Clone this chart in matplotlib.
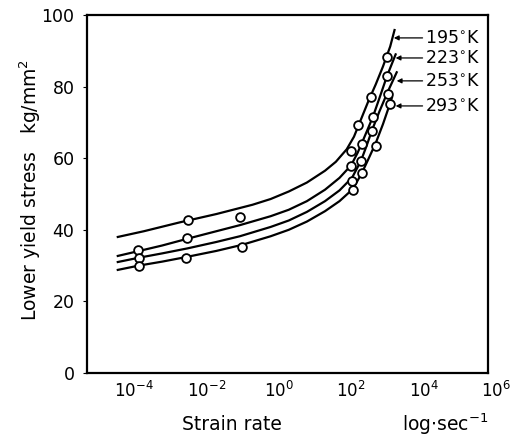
import numpy as np
import matplotlib
matplotlib.use("Agg")
import matplotlib.pyplot as plt
from matplotlib.transforms import ScaledTranslation

# ---- data (log10 strain rate, lower yield stress kg/mm^2) ----
temps = ["195", "223", "253", "293"]

# smooth curves
curve_195_logx = [-4.22, -3.5, -2.5, -1.5, -0.5, 0.0, 0.5, 1.0, 1.5, 1.8, 2.1, 2.3, 2.5, 2.7, 2.9, 3.1, 3.3, 3.42]
curve_195_y = [38.0, 39.6, 42.1, 44.4, 47.0, 48.6, 50.7, 53.2, 56.5, 59.0, 62.5, 66.0, 71.0, 76.0, 80.6, 85.6, 91.2, 95.8]
curve_223_logx = [-4.22, -3.67, -3.0, -2.3, -1.5, -0.85, 0.0, 0.5, 1.0, 1.5, 1.9, 2.22, 2.4, 2.55, 2.7, 2.82, 3.0, 3.21, 3.45]
curve_223_y = [32.7, 34.0, 35.6, 37.5, 39.6, 41.3, 43.8, 45.6, 48.0, 51.2, 54.5, 58.0, 61.5, 65.0, 68.6, 71.5, 76.7, 82.9, 89.0]
curve_253_logx = [-4.22, -3.64, -3.0, -2.3, -1.5, -0.85, 0.0, 0.5, 1.0, 1.5, 1.9, 2.25, 2.49, 2.65, 2.79, 3.0, 3.23, 3.48]
curve_253_y = [31.0, 32.2, 33.4, 34.8, 36.6, 38.2, 40.8, 42.6, 45.0, 48.0, 51.0, 54.6, 59.2, 63.5, 67.6, 73.0, 78.5, 84.0]
curve_293_logx = [-4.22, -3.64, -3.0, -2.33, -1.5, -0.79, 0.0, 0.5, 1.0, 1.5, 1.9, 2.27, 2.52, 2.7, 2.9, 3.1, 3.29, 3.35]
curve_293_y = [28.8, 30.0, 31.1, 32.4, 34.1, 35.8, 38.2, 40.0, 42.3, 45.2, 48.0, 51.4, 55.9, 59.8, 64.2, 69.5, 75.1, 77.0]

# measured points
pts_195_logx = [-2.27, -0.85, 2.22, 2.41, 2.77, 3.21]
pts_195_y = [42.7, 43.6, 62.0, 69.3, 77.1, 88.3]
pts_223_logx = [-3.67, -2.30, 2.22, 2.52, 2.82, 3.21]
pts_223_y = [34.4, 37.7, 57.8, 64.0, 71.5, 82.9]
pts_253_logx = [-3.64, 2.25, 2.49, 2.79, 3.23]
pts_253_y = [32.1, 53.6, 59.2, 67.6, 77.9]
pts_293_logx = [-3.64, -2.33, -0.79, 2.27, 2.52, 2.90, 3.29]
pts_293_y = [29.9, 32.1, 35.3, 51.1, 55.9, 63.4, 75.1]

# label arrows: tip (log x), y
label_tip_logx = [3.40, 3.45, 3.48, 3.45]
label_y = [93.6, 88.0, 81.6, 74.6]

xtick_exp = [-4, -2, 0, 2, 4, 6]
yticks = [0, 20, 40, 60, 80, 100]

curves = [(curve_195_logx, curve_195_y), (curve_223_logx, curve_223_y),
          (curve_253_logx, curve_253_y), (curve_293_logx, curve_293_y)]
points = [(pts_195_logx, pts_195_y), (pts_223_logx, pts_223_y),
          (pts_253_logx, pts_253_y), (pts_293_logx, pts_293_y)]

plt.rcParams['font.family'] = ['DejaVu Sans']
plt.rcParams['mathtext.fontset'] = 'dejavusans'

fig = plt.figure(figsize=(5.19, 4.43), dpi=100)
ax = fig.add_axes([87/519, 1 - 373/443, (488-87)/519, (373-15)/443])

for (lx, ly) in curves:
    ax.plot(10**np.array(lx), ly, color='black', lw=1.6, zorder=2,
            solid_joinstyle='round')
for (lx, ly) in points:
    ax.plot(10**np.array(lx), ly, 'o', ms=6.3, mfc='white', mec='black',
            mew=1.3, zorder=3, linestyle='none')

ax.set_xscale('log')
ax.set_xlim(10**-5.07, 10**6)
ax.set_ylim(0, 100)
ax.set_xticks([10.0**e for e in xtick_exp])
ax.set_xticklabels([r"$10^{%d}$" % e for e in xtick_exp], fontsize=12)
ax.xaxis.set_minor_locator(matplotlib.ticker.NullLocator())
ax.set_yticks(yticks)
ax.set_yticklabels([str(v) for v in yticks], fontsize=12.5)
ax.tick_params(axis='x', length=0, pad=6)
ax.tick_params(axis='y', length=3, width=0.8, pad=6)
off = ScaledTranslation(8/100, 0, fig.dpi_scale_trans)
for lab in ax.get_xticklabels():
    lab.set_transform(lab.get_transform() + off)

for s in ax.spines.values():
    s.set_linewidth(1.6)

text_logx = 4.27
for t, tip, y in zip(temps, label_tip_logx, label_y):
    ax.annotate(t + r"$^{\circ}$K", xy=(10**tip, y), xytext=(10**text_logx, y),
                ha='left', va='center', fontsize=12.5,
                arrowprops=dict(arrowstyle='-|>', color='black', lw=0.9,
                                mutation_scale=7, shrinkA=0, shrinkB=0))

fig.text(30/519, 1 - 190/443, r"Lower yield stress   kg/mm$^2$", rotation=90,
         ha='center', va='center', fontsize=13.5)
fig.text(232/519, 1 - 425/443, "Strain rate", ha='center', va='center', fontsize=13.5)
fig.text(445/519, 1 - 424/443, r"log$\cdot$sec$^{-1}$", ha='center', va='center', fontsize=13.5)

fig.savefig("out.png", dpi=100)
